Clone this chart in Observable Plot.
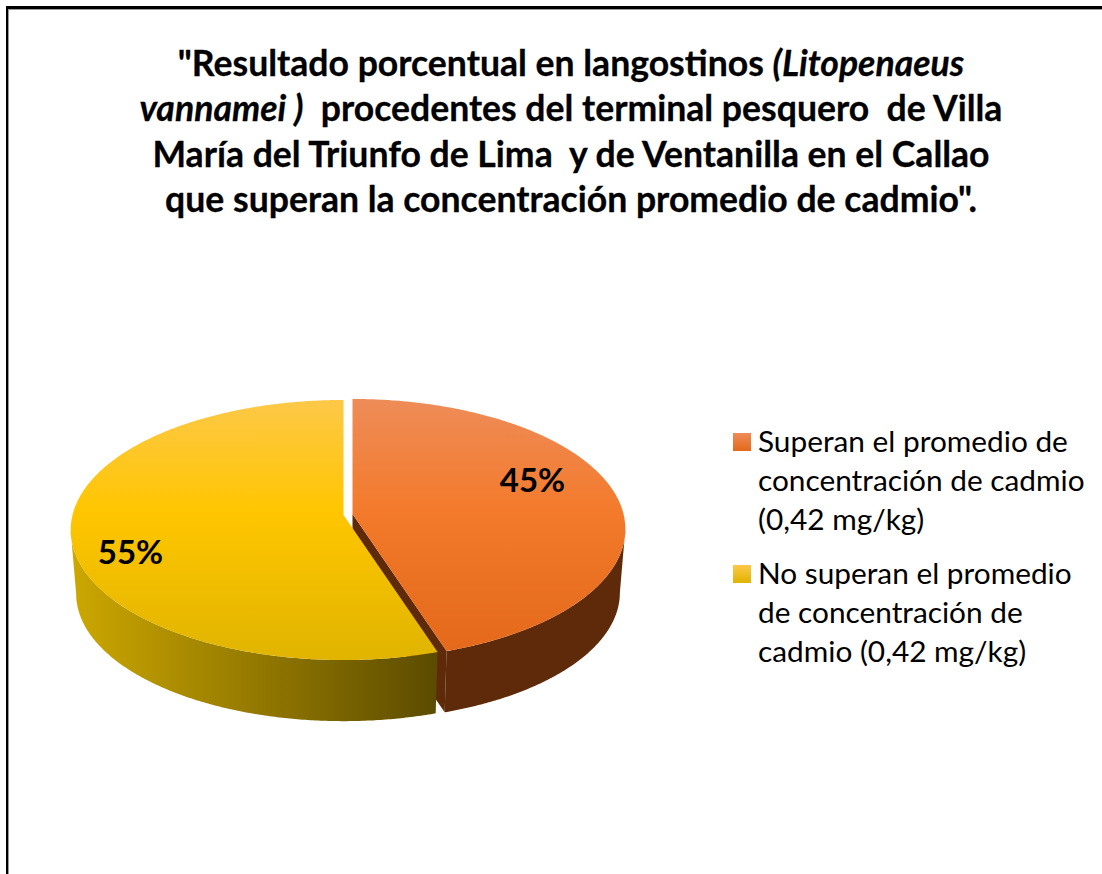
<!DOCTYPE html>
<html lang="es"><head><meta charset="utf-8">
<script src="https://cdn.jsdelivr.net/npm/d3@7"></script>
<script src="https://cdn.jsdelivr.net/npm/@observablehq/plot@0.6"></script>
<style>
html,body{margin:0;padding:0;background:#fff}
#page{position:relative;width:1102px;height:874px;overflow:hidden;font-family:Lato,"Open Sans",sans-serif;color:#000}
#frame{position:absolute;left:6px;top:6px;right:-10px;bottom:-10px;border-left:2px solid #000;border-top:3px solid #000;box-shadow:inset 1px 1px 0 #999}
#chart{position:absolute;left:0;top:0}
#title div{position:absolute;left:0;width:1142px;text-align:center;font-weight:700;font-size:35.6px;line-height:40px;white-space:pre;-webkit-text-stroke:0.3px #000}
.key{position:absolute;left:733px;width:18px;height:18px}
.ln{position:absolute;left:758px;font-size:29.8px;line-height:39px;white-space:pre}
</style></head><body>
<div id="page">
<div id="frame"></div>
<div id="chart"></div>
<div id="title"></div>
<div id="legend"></div>
</div>
<script>
const categories = ["Superan", "No superan"];
const shares = [45, 55];
const titleLines = [
  '"Resultado porcentual en langostinos <i>(Litopenaeus</i>',
  '<i>vannamei )</i>  procedentes del terminal pesquero  de Villa',
  'María del Triunfo de Lima  y de Ventanilla en el Callao',
  'que superan la concentración promedio de cadmio".'
];
const legendLines = [
  ["Superan el promedio de", "concentración de cadmio", "(0,42 mg/kg)"],
  ["No superan el promedio", "de concentración de", "cadmio (0,42 mg/kg)"]
];
const W = 1102, H = 874;

// perspective disk
const k = 271, kY = 128.3, p = 0.1154;
const depth = 64, bottomScale = 0.98;
const apex = {Superan: [352, 513.5], "No superan": [343, 514.5]};
const rim = (t, [ax, ay], s = 1, dy = 0) => {
  const r = t * Math.PI / 180, d = 1 + p * Math.cos(r);
  return {x: ax + s * k * Math.sin(r) / d, y: ay + dy - s * kY * Math.cos(r) / d};
};
const sweep = (a, b) => {
  const n = Math.ceil(Math.abs(b - a)) * 2;
  return d3.range(n + 1).map(i => a + (b - a) * i / n);
};
const split = shares[0] / d3.sum(shares) * 360;
const a0 = apex[categories[0]], a1 = apex[categories[1]];
// rim silhouette: the angles where the projected disk is widest
const sil = Math.acos(-p) * 180 / Math.PI;

const orangeTop = [{x: a0[0], y: a0[1]}, ...sweep(0, split).map(t => rim(t, a0))];
const yellowTop = [{x: a1[0], y: a1[1]}, ...sweep(split, 360).map(t => rim(t, a1))];
const wall = (a, b, ap) => [
  ...sweep(a, b).map(t => rim(t, ap)),
  ...sweep(b, a).map(t => rim(t, ap, bottomScale, depth))
];
const orangeSide = wall(sil, split, a0);
const yellowSide = wall(split, 360 - sil, a1);
const orangeCut = [
  {x: a0[0], y: a0[1]}, rim(split, a0), rim(split, a0, bottomScale, depth),
  {x: a0[0], y: a0[1] + depth}
];
const line = (pts, fill) => Plot.line(pts, {x: "x", y: "y", fill, stroke: "none"});

const labels = [
  {text: shares[0] + "%", x: 532, y: 481},
  {text: shares[1] + "%", x: 130, y: 553}
];

const chart = Plot.plot({
  width: W, height: H, margin: 0,
  x: {domain: [0, W], range: [0, W], axis: null},
  y: {domain: [0, H], range: [0, H], axis: null},
  marks: [
    line(orangeSide, "#5e2a09"),
    line(orangeCut, "#5e2a09"),
    line(orangeTop, "url(#gOrange)"),
    line(yellowSide, "url(#gYellowSide)"),
    line(yellowTop, "url(#gYellow)"),
    Plot.text(labels, {x: "x", y: "y", text: "text", fontSize: 33, fontWeight: 700, fontFamily: "Lato", fill: "#000"})
  ]
});
chart.style.background = "transparent";
chart.insertAdjacentHTML("afterbegin", `<defs>
<linearGradient id="gOrange" x1="0" y1="0" x2="0" y2="1">
<stop offset="0" stop-color="#ee8c58"/><stop offset="0.45" stop-color="#f37a2b"/><stop offset="1" stop-color="#e4691a"/></linearGradient>
<linearGradient id="gYellow" x1="0" y1="0" x2="0" y2="1">
<stop offset="0" stop-color="#fdc848"/><stop offset="0.43" stop-color="#ffc600"/><stop offset="1" stop-color="#e0b400"/></linearGradient>
<linearGradient id="gYellowSide" x1="0" y1="0" x2="1" y2="0">
<stop offset="0" stop-color="#cda800"/><stop offset="1" stop-color="#5b4b00"/></linearGradient>
</defs>`);
document.getElementById("chart").append(chart);

const t = document.getElementById("title");
titleLines.forEach((s, i) => {
  const d = document.createElement("div");
  d.innerHTML = s;
  d.style.top = (43 + i * 45.3) + "px";
  t.append(d);
});
const lg = document.getElementById("legend");
const keyFill = ["linear-gradient(#ee8c58,#e4691a)", "linear-gradient(#fdc848,#e0b400)"];
const tops = [421, 553];
legendLines.forEach((lines, i) => {
  const k = document.createElement("div");
  k.className = "key"; k.style.top = (tops[i] + 12) + "px"; k.style.background = keyFill[i];
  lg.append(k);
  lines.forEach((s, j) => {
    const e = document.createElement("div");
    e.className = "ln"; e.textContent = s; e.style.top = (tops[i] + j * 39) + "px";
    lg.append(e);
  });
});
</script>
</body></html>
